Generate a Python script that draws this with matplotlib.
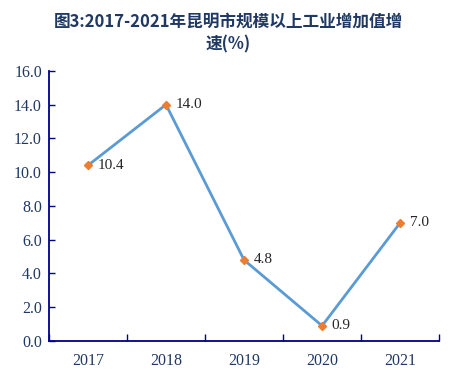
import matplotlib
matplotlib.use("Agg")
import matplotlib.pyplot as plt

years = ["2017", "2018", "2019", "2020", "2021"]
values = [10.4, 14.0, 4.8, 0.9, 7.0]
yticks = [0, 2, 4, 6, 8, 10, 12, 14, 16]

fig = plt.figure(figsize=(4.57, 3.81), dpi=100)
ax = fig.add_axes([0.107, 0.105, 0.854, 0.709])

x = list(range(len(years)))
ax.plot(x, values, color="#5B9BD5", lw=2, zorder=2)
ax.plot(x, values, ls="none", marker="D", ms=4, color="#ED7D31", zorder=3)
for xi, v in zip(x, values):
    ax.annotate(f"{v:.1f}", (xi, v), xytext=(7, 0), textcoords="offset points",
                va="center", ha="left", fontsize=11, family="Liberation Serif", color="#262626")

ax.set_xlim(-0.5, 4.5)
ax.set_ylim(0, 16)
ax.set_yticks(yticks)
ax.set_yticklabels([f"{t:.1f}" for t in yticks])
ax.set_xticks(x)
ax.set_xticklabels(years)
ax.set_xticks([i + 0.5 for i in range(-1, 5)], minor=True)
navy = "#00008B"
for s in ["top", "right"]:
    ax.spines[s].set_visible(False)
for s in ["left", "bottom"]:
    ax.spines[s].set_color(navy)
    ax.spines[s].set_linewidth(1.3)
ax.tick_params(axis="x", which="major", length=0, pad=9)
ax.tick_params(axis="x", which="minor", direction="in", length=5, color=navy, width=1)
ax.tick_params(axis="y", direction="in", length=4, color=navy, width=1, pad=5)
for lab in ax.get_xticklabels() + ax.get_yticklabels():
    lab.set_family("Liberation Serif")
    lab.set_fontsize(11.5)
    lab.set_color("#1F3864")

fig.text(0.5, 0.942, "图3:2017-2021年昆明市规模以上工业增加值增", ha="center", va="center",
         fontsize=12, fontweight="bold", color="#1F3864", family=["Noto Sans CJK SC", "DejaVu Sans"])
fig.text(0.5, 0.882, "速(%)", ha="center", va="center",
         fontsize=12, fontweight="bold", color="#1F3864", family=["Noto Sans CJK SC", "DejaVu Sans"])

fig.savefig("out.png", dpi=100)
